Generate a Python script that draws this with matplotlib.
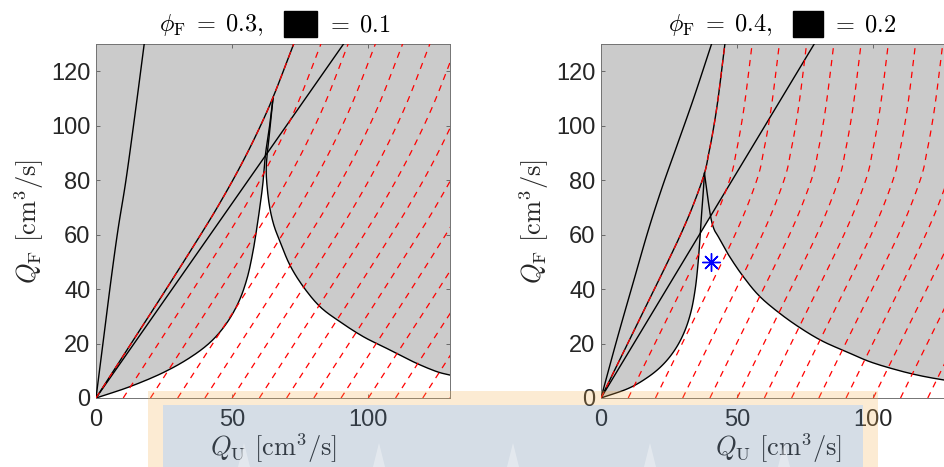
import matplotlib.pyplot as plt
import matplotlib.patches as patches
import numpy as np

plt.rcParams['mathtext.fontset'] = 'cm'
plt.rcParams['font.family'] = ['Liberation Sans', 'DejaVu Sans']

W, H = 944, 467

# panel parameters (titles)
phi_F = [0.3, 0.4]
hidden_val = [0.1, 0.2]

# red dashed family: one base curve, shifted along Q_U
red_shifts = [0, 10, 20, 30, 40, 50, 60, 70, 80, 90, 100, 110, 120, 130]

# ---- left panel ----
L_red_y = [0, 20, 40, 61.7, 72.5, 84.7, 97, 110.4, 130]
L_red_x = [0, 12.9, 25.8, 39.5, 46.0, 52.8, 59.0, 65.0, 72.6]
L_A_x = [0, 2.8, 5.6, 8.1, 11.0, 14.3, 17.7]
L_A_y = [0, 22, 44, 62, 80, 104, 130]
L_C_x = [0, 90.9]
L_C_y = [0, 130]
L_D_x = [0, 12, 24, 34, 42, 48, 52.5, 55.5, 57.5, 59.0, 60.3, 61.2, 61.7, 62.3, 63.5, 65.0]
L_D_y = [0, 4.0, 9.0, 14.5, 20.5, 27.5, 35.5, 44, 53, 62, 71, 78, 83.5, 90, 98, 110]
L_E_x = [65.0, 63.8, 62.9, 62.5, 62.8, 63.7, 65.3, 67.6, 71.2, 76.1, 82.3, 89.6, 98.2, 106.8, 116.5, 125.1, 131]
L_E_y = [110, 98, 90, 84, 78, 70.5, 63.5, 57.4, 48.8, 40.9, 33.5, 28.0, 22.5, 18.2, 13.3, 9.7, 8.2]

# ---- right panel ----
R_red_y = [0, 30, 50, 61.7, 72, 82.5, 90, 98.4, 110, 130]
R_red_x = [0, 14.7, 24.5, 30.0, 34.3, 38.0, 39.6, 41.2, 43.0, 45.5]
R_A_x = [0, 6, 12, 17.4, 22.5, 28, 34, 40.6]
R_A_y = [0, 22, 43, 61.7, 77.5, 93, 110, 130]
R_C_x = [0, 78.3]
R_C_y = [0, 130]
R_D_x = [0, 10, 17, 22.5, 27, 30.5, 33, 34.6, 35.6, 36.3, 36.9, 37.5, 38.0]
R_D_y = [0, 3.5, 7.5, 12, 17.5, 24, 31.5, 40, 49, 58, 67, 75, 82.5]
R_E_x = [38.0, 39.0, 40.3, 41.5, 43.1, 46.8, 52.3, 58.4, 66.4, 74.3, 81.7, 90.1, 98.8, 108.6, 117.2, 126.0, 131]
R_E_y = [82.5, 75, 66.4, 62, 59.2, 52.6, 44.5, 37.2, 30.5, 25.0, 20.7, 17.0, 13.3, 10.3, 8.2, 6.6, 6.0]
star_x = [40.4]
star_y = [50.0]

gray = '#cbcbcb'
txt = '#262626'


def smooth(x, y, n=10):
    # Catmull-Rom through the traced points, only to draw a round curve
    p = np.column_stack([x, y]).astype(float)
    p = np.vstack([2 * p[0] - p[1], p, 2 * p[-1] - p[-2]])
    out = []
    t = np.linspace(0, 1, n, endpoint=False)[:, None]
    for i in range(1, len(p) - 2):
        p0, p1, p2, p3 = p[i - 1], p[i], p[i + 1], p[i + 2]
        out.append(0.5 * (2 * p1 + (p2 - p0) * t + (2 * p0 - 5 * p1 + 4 * p2 - p3) * t ** 2
                          + (3 * p1 - p0 - 3 * p2 + p3) * t ** 3))
    out.append(p[-2][None, :])
    out = np.vstack(out)
    return out[:, 0], out[:, 1]


fig = plt.figure(figsize=(W / 100, H / 100), dpi=100)


def draw_panel(ax, red_x, red_y, A, C, D, E, star=None):
    ax.set_facecolor(gray)
    ax_, ay_ = smooth(*A)
    rx, ry = smooth(red_x, red_y)
    dx, dy = smooth(*D)
    ex, ey = smooth(*E)

    # white region: right of D, below E
    ax.fill(np.r_[dx, ex, ex[-1], 0], np.r_[dy, ey, 0, 0], color='white', lw=0, zorder=1)
    # everything above the straight line C is grey again
    ax.fill([0, C[0][-1], 0], [0, C[1][-1], 130], color=gray, lw=0, zorder=1.5)

    k = dict(color='black', lw=1.0, zorder=3)
    ax.plot(ax_, ay_, **k)
    ax.plot(rx, ry, **k)
    ax.plot(C[0], C[1], **k)
    ax.plot(dx, dy, **k)
    ax.plot(ex, ey, **k)

    for s in red_shifts:
        ax.plot(rx + s, ry, color='red', lw=0.9, dashes=(5, 4.5), zorder=4)
    if star is not None:
        ax.plot(star[0], star[1], ls='none', marker=(8, 2, 0), ms=13,
                mec='blue', mew=1.0, zorder=5)

    ax.set_xlim(0, 130)
    ax.set_ylim(0, 130)
    ax.set_xticks([0, 50, 100])
    ax.set_yticks([0, 20, 40, 60, 80, 100, 120])
    ax.tick_params(direction='in', top=True, right=True, length=3,
                   width=0.6, color='0.35', labelsize=17, labelcolor=txt)
    ax.tick_params(axis='x', pad=8)
    ax.tick_params(axis='y', pad=4)
    for sp in ax.spines.values():
        sp.set_color('0.45')
        sp.set_linewidth(0.7)
    ax.set_ylabel(r'$Q_\mathrm{F}\ [\mathrm{cm}^3/\mathrm{s}]$', fontsize=19,
                  color=txt, labelpad=4)
    ax.set_xlabel(r'$Q_\mathrm{U}\ [\mathrm{cm}^3/\mathrm{s}]$', fontsize=19,
                  color=txt, labelpad=0)


axL = fig.add_axes([96 / W, (H - 398) / H, 354 / W, 354 / H])
axR = fig.add_axes([601 / W, (H - 398) / H, 354 / W, 354 / H])

draw_panel(axL, L_red_x, L_red_y, (L_A_x, L_A_y), (L_C_x, L_C_y),
           (L_D_x, L_D_y), (L_E_x, L_E_y))
draw_panel(axR, R_red_x, R_red_y, (R_A_x, R_A_y), (R_C_x, R_C_y),
           (R_D_x, R_D_y), (R_E_x, R_E_y), star=(star_x, star_y))

# titles: symbol hidden behind a black box
title_pos = [(263, 284, 317, 326), (772, 793, 823, 831)]
for (x1, b0, b1, x2), p, h in zip(title_pos, phi_F, hidden_val):
    fig.text(x1 / W, 1 - 31.5 / H, r'$\phi_\mathrm{F}\;=\;%.1f,$' % p,
             ha='right', va='baseline', fontsize=17.5, color='black')
    fig.text(x2 / W, 1 - 31.5 / H, r'$=\;%.1f$' % h,
             ha='left', va='baseline', fontsize=17.5, color='black')
    fig.patches.append(patches.Rectangle((b0 / W, 1 - 36.5 / H), (b1 - b0) / W,
                                         25.5 / H, transform=fig.transFigure,
                                         color='black', zorder=5))

# semi-transparent overlay box at the bottom
ov = dict(transform=fig.transFigure, lw=0, zorder=10)
org = (247 / 255, 179 / 255, 83 / 255)
blu = (91 / 255, 123 / 255, 159 / 255)
fig.patches.append(patches.Rectangle((148 / W, 0), 15 / W, (H - 391) / H, color=org, alpha=0.25, **ov))
fig.patches.append(patches.Rectangle((863 / W, 0), 15 / W, (H - 391) / H, color=org, alpha=0.25, **ov))
fig.patches.append(patches.Rectangle((163 / W, (H - 405) / H), 700 / W, 14 / H, color=org, alpha=0.25, **ov))
fig.patches.append(patches.Rectangle((163 / W, 0), 700 / W, (H - 405) / H, color=blu, alpha=0.25, **ov))
for tx in [244, 379, 513, 650, 784]:
    fig.patches.append(patches.Polygon([((tx - 6) / W, 0), (tx / W, 24 / H), ((tx + 6) / W, 0)],
                                       closed=True, color='white', alpha=0.35, **ov))

fig.savefig('out.png', dpi=100)
